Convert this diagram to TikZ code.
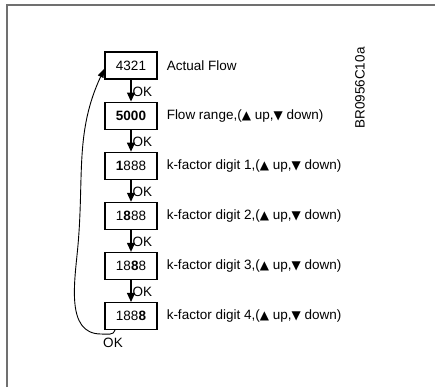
\documentclass[tikz,border=0pt]{standalone}
\usepackage{fontspec}
\setmainfont{Liberation Sans}
\newfontfamily\symfont{DejaVu Sans}
\usetikzlibrary{arrows.meta,positioning}
\definecolor{frGrey}{HTML}{707070}
\newcommand{\up}{{\symfont\fontsize{12}{14}\selectfont ▲}}
\newcommand{\dn}{{\symfont\fontsize{12}{14}\selectfont ▼}}

\begin{document}
\begin{tikzpicture}[x=1pt,y=1pt,font=\fontsize{13.5}{16}\selectfont,
      disp/.style={draw,line width=1.1pt,minimum width=52pt,minimum height=27pt,inner sep=0pt},
      note/.style={anchor=west,inner sep=0pt},
      okarr/.style={-{Triangle[length=9pt,width=8pt]},line width=1.1pt},
      backarr/.style={-{Triangle[length=9pt,width=6pt]},line width=0.9pt},
      oklbl/.style={right,inner sep=1pt}]
    \useasboundingbox (0,0) rectangle (435,-387);
    \draw[frGrey,line width=1.4pt] (7,-387) -- (7,-5) -- (435,-5);

    \node[disp] (d1) at (131,-65.5) {4321};
    \node[disp,below=22pt of d1] (d2) {\textbf{5000}};
    \node[disp,below=22pt of d2] (d3) {\textbf{1}888};
    \node[disp,below=22pt of d3] (d4) {1\textbf{8}88};
    \node[disp,below=22pt of d4] (d5) {18\textbf{8}8};
    \node[disp,below=22pt of d5] (d6) {188\textbf{8}};

    \node[note] (t1) at ([xshift=9pt]d1.east) {Actual Flow};
    \node[note] (t2) at ([xshift=9pt]d2.east) {Flow range,(\up\ up,\dn\ down)};
    \node[note] (t3) at ([xshift=9pt]d3.east) {k-factor digit 1,(\up\ up,\dn\ down)};
    \node[note] (t4) at ([xshift=9pt]d4.east) {k-factor digit 2,(\up\ up,\dn\ down)};
    \node[note] (t5) at ([xshift=9pt]d5.east) {k-factor digit 3,(\up\ up,\dn\ down)};
    \node[note] (t6) at ([xshift=9pt]d6.east) {k-factor digit 4,(\up\ up,\dn\ down)};

    \node[rotate=90] (code) at (360,-88) {BR0956C10a};

    \foreach \a/\b in {d1/d2,d2/d3,d3/d4,d4/d5,d5/d6}
      \draw[okarr] (\a) -- (\b) node[midway,oklbl,yshift=-1pt] {OK};

    \coordinate (lp1) at (101,-334);
    \coordinate (lp2) at (78,-245);
    \draw[backarr] ([xshift=-16pt]d6.south) to[out=-100,in=0] (lp1)
      to[out=180,in=-95] (lp2) to[out=85,in=-115] ([yshift=-3pt]d1.west);
    \node (okb) at (113,-343) {OK};
  \end{tikzpicture}
\end{document}
